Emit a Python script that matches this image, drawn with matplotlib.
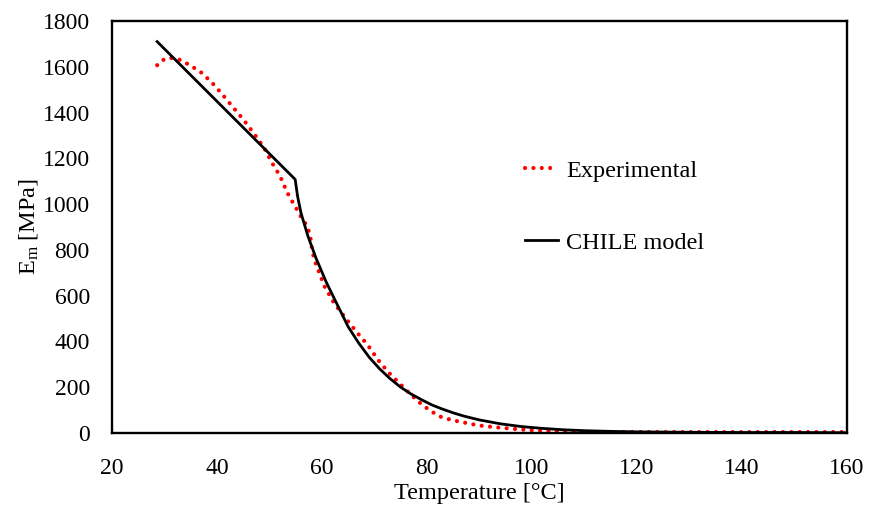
import matplotlib
matplotlib.use("Agg")
import matplotlib.pyplot as plt

plt.rcParams['font.family'] = ['Liberation Serif', 'DejaVu Serif']
plt.rcParams['mathtext.fontset'] = 'custom'
plt.rcParams['mathtext.rm'] = 'Liberation Serif'
plt.rcParams['mathtext.it'] = 'Liberation Serif:italic'

# experimental curve
exp_T = [28.6, 29.5, 31, 33, 35, 37, 39, 41, 43, 45, 47, 49, 50.5, 52, 53.4,
         54.3, 55.15, 56, 57, 57.7, 58.1, 58.5, 59.2, 59.8, 60.4, 61.4, 62.3,
         64.25, 66.5, 68.7, 70.6, 72.5, 74.4, 77, 79.1, 81, 82.7, 84.8, 86.8,
         88.7, 90.6, 93.5, 96.3, 100, 103.3, 107, 111.6, 120, 130, 140, 150, 160]
exp_E = [1607, 1628, 1640, 1630, 1605, 1575, 1532, 1480, 1425, 1370, 1310,
         1245, 1180, 1123, 1050, 1013, 980, 945, 910, 870, 805, 762, 717, 682,
         644, 604, 568, 509, 444, 385, 322, 269, 225, 166, 123, 92, 70, 56, 47,
         38, 31, 24, 18, 12, 9, 6, 4, 4, 4, 4, 4, 4]

# CHILE model
mod_T = [28.6, 54.9, 55.35, 56, 57.3, 58.85, 60.8, 62.5, 63, 65, 67, 69,
         71, 73, 75, 77, 79, 81, 83, 85, 87, 90, 94, 98, 102, 106, 110, 115,
         120, 130, 140, 150, 160]
mod_E = [1710, 1108, 1035, 962, 862, 765, 660, 580, 557, 464, 393, 331, 280,
         237, 200, 170, 145, 122, 104, 88, 74, 57, 40, 28, 20, 14, 10, 7, 5, 3,
         2, 2, 1]

fig = plt.figure(figsize=(8.73, 5.13), dpi=100)
ax = fig.add_axes([0.1283, 0.156, 0.8417, 0.803])

ax.plot(exp_T, exp_E, color='#ff0000', lw=3.0, linestyle=(0, (0.01, 2.0)),
        dash_capstyle='round', label='Experimental')
ax.plot(mod_T, mod_E, color='black', lw=2.0, label='CHILE model')

ax.set_xlim(20, 160)
ax.set_ylim(0, 1800)
ax.set_xticks(range(20, 161, 20))
ax.set_yticks(range(0, 1801, 200))
ax.tick_params(length=0, labelsize=17)
ax.tick_params(axis='y', pad=16)
ax.tick_params(axis='x', pad=18)
for s in ax.spines.values():
    s.set_linewidth(1.7)

ax.set_xlabel('Temperature [°C]', fontsize=17.5, labelpad=3)
ax.set_ylabel(r'E$_\mathrm{m}$ [MPa]', fontsize=17.5, labelpad=2)

ax.legend(frameon=False, loc='center left', bbox_to_anchor=(0.562, 0.549),
          fontsize=17.5, handlelength=1.35, handletextpad=0.35,
          labelspacing=2.05, borderpad=0, borderaxespad=0)

fig.savefig('out.png', dpi=100)
